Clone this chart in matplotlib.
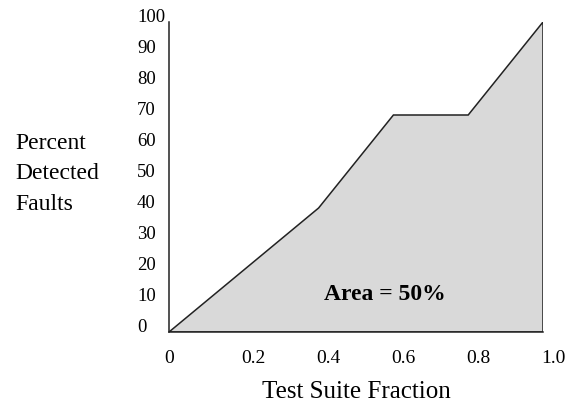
import matplotlib.pyplot as plt
from matplotlib.transforms import ScaledTranslation

# fraction of test suite run vs percent of faults detected
fraction = [0, 0.4, 0.6, 0.8, 1.0]
detected = [0, 40, 70, 70, 100]
x_ticks = [0, 0.2, 0.4, 0.6, 0.8, 1.0]
x_labels = ['0', '0.2', '0.4', '0.6', '0.8', '1.0']
y_ticks = [0, 10, 20, 30, 40, 50, 60, 70, 80, 90, 100]
y_labels = [str(v) for v in y_ticks]

plt.rcParams['font.family'] = ['Liberation Serif', 'DejaVu Serif']

fig = plt.figure(figsize=(5.74, 4.02), dpi=100)
ax = fig.add_axes([169 / 574, 69 / 402, 374 / 574, 310 / 402])

poly_x = fraction + [fraction[-1], fraction[0]]
poly_y = detected + [0, 0]
ax.fill(poly_x, poly_y, facecolor='#d9d9d9', edgecolor='#222222', linewidth=1.1)

ax.set_xlim(0, 1.0)
ax.set_ylim(0, 100)
ax.spines['top'].set_visible(False)
ax.spines['right'].set_visible(False)
ax.spines['left'].set_color('#222222')
ax.spines['bottom'].set_color('#222222')
ax.spines['left'].set_linewidth(1.1)
ax.spines['bottom'].set_linewidth(1.1)

ax.set_xticks(x_ticks)
ax.set_xticklabels(x_labels)
ax.set_yticks(y_ticks)
ax.set_yticklabels(y_labels, ha='left')
ax.tick_params(axis='x', length=0, pad=12, labelsize=14)
ax.tick_params(axis='y', length=0, pad=23, labelsize=13.5)

for lab in ax.get_xticklabels()[1:]:
    lab.set_transform(lab.get_transform() + ScaledTranslation(10 / 100, 0, fig.dpi_scale_trans))
for lab in ax.get_yticklabels():
    lab.set_transform(lab.get_transform() + ScaledTranslation(0, 7 / 100, fig.dpi_scale_trans))

ax.set_xlabel('Test Suite Fraction', fontsize=18, labelpad=10)
fig.text(15 / 574, 1 - 174 / 402, 'Percent\nDetected\nFaults', fontsize=17,
         ha='left', va='center', linespacing=1.62)

ax.text(0.578, 12.3, 'Area = 50%', fontsize=17, fontweight='bold',
        ha='center', va='center')

fig.savefig('out.png', dpi=100)
